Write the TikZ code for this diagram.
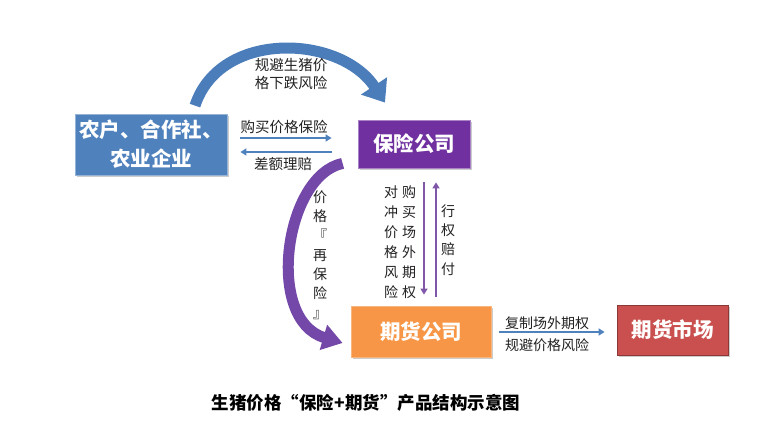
\documentclass[tikz,border=0pt]{standalone}
\usepackage{fontspec}
\setmainfont{Noto Sans CJK SC}
\usetikzlibrary{arrows.meta,shadows}
\definecolor{boxblue}{HTML}{4F81BD}
\definecolor{boxpurp}{HTML}{7030A0}
\definecolor{boxorange}{HTML}{F79646}
\definecolor{boxred}{HTML}{C9504E}
\definecolor{arrowblue}{HTML}{4F81BD}
\definecolor{arcblue}{HTML}{4A7DBA}
\definecolor{arcpurp}{HTML}{7448A8}
\definecolor{vpurp}{HTML}{7E57A8}
\definecolor{txt}{HTML}{222222}
\begin{document}
\begin{tikzpicture}[x=1pt,y=-1pt,
  boxnode/.style={inner sep=0pt, text=white, font=\bfseries\fontsize{20.5}{29}\selectfont, align=center,
    line width=0.8pt, drop shadow={shadow xshift=1.5pt,shadow yshift=-2pt,opacity=0.2,fill=black}},
  lbl/.style={font=\fontsize{14.5}{18}\selectfont, inner sep=0pt, align=center, text=txt},
  vlbl/.style={font=\fontsize{14}{20}\selectfont, inner sep=0pt, align=center, text=txt},
  vlblb/.style={font=\fontsize{14}{19.3}\selectfont, inner sep=0pt, align=center, text=txt},
  thinarrow/.style={line width=2pt, draw=arrowblue, -{Triangle[length=6pt,width=7pt]}},
  vthin/.style={line width=2pt, draw=vpurp, -{Triangle[length=6pt,width=7pt]}}
]
\useasboundingbox (0,0) rectangle (765,427);
\fill[white] (0,0) rectangle (765,427);

% boxes
\node[boxnode, fill=boxblue, draw=boxblue!60!white, minimum width=152pt, minimum height=61pt] (farm) at (151,144.5) {农户、合作社、\\农业企业};
\node[boxnode, fill=boxpurp, draw=boxpurp!60!white, minimum width=112pt, minimum height=48pt] (ins) at (414,144) {保险公司};
\node[boxnode, fill=boxorange, draw=boxorange!70!white, minimum width=140pt, minimum height=51pt] (fut) at (421,331.5) {期货公司};
\node[boxnode, fill=boxred, draw=boxred!70!black, minimum width=111pt, minimum height=50pt] (mkt) at (672.5,330) {期货市场};

% curved arrows
\draw[line width=11pt, draw=arcblue, -{Triangle[length=20pt,width=30pt]}]
  ([xshift=44pt,yshift=8pt]farm.north) .. controls +(25,-76) and +(-45,-68) .. ([xshift=-29pt,yshift=17pt]ins.north);
\draw[line width=11pt, draw=arcpurp, -{Triangle[length=20pt,width=25pt]}]
  ([xshift=-15pt,yshift=5pt]ins.south west) .. controls +(-58,12) and +(-78,-23) .. ([xshift=-8pt,yshift=-11.5pt]fut.west);

% straight arrows
\draw[thinarrow] ([xshift=13pt,yshift=6.5pt]farm.east) -- ([xshift=-26pt,yshift=6pt]ins.west);
\draw[thinarrow] ([xshift=-26pt,yshift=-8pt]ins.west) -- ([xshift=13pt,yshift=-7.5pt]farm.east);
\draw[vthin] ([xshift=10pt,yshift=-14pt]ins.south) -- ([xshift=3pt,yshift=11pt]fut.north);
\draw[vthin] ([xshift=15pt,yshift=9pt]fut.north) -- ([xshift=22pt,yshift=-14pt]ins.south);
\draw[thinarrow] ([xshift=8pt,yshift=-0.5pt]fut.east) -- ([xshift=-12pt,yshift=-2pt]mkt.west);

% labels
\node[lbl] (toplbl) at (291,74) {规避生猪价\\格下跌风险};
\node[lbl] (buylbl) at (284,127) {购买价格保险};
\node[lbl] (paylbl) at (283,164) {差额理赔};
\node[vlbl] (hedge) at (391,242) {对\\冲\\价\\格\\风\\险};
\node[vlbl] (buyopt) at (409,242) {购\\买\\场\\外\\期\\权};
\node[vlblb] (exer) at (448,240) {行\\权\\赔\\付};
\node[vlblb] (reins) at (320,255) {价\\格\\『\\再\\保\\险\\』};
\node[lbl, font=\fontsize{14}{18}\selectfont] (copy) at (547,323) {复制场外期权};
\node[lbl, font=\fontsize{14}{18}\selectfont] (avoid) at (547,345) {规避价格风险};
\node[inner sep=0pt, text=black, font=\bfseries\fontsize{17.5}{20}\selectfont] (cap) at (366,403) {生猪价格“保险+期货”产品结构示意图};
\end{tikzpicture}
\end{document}
